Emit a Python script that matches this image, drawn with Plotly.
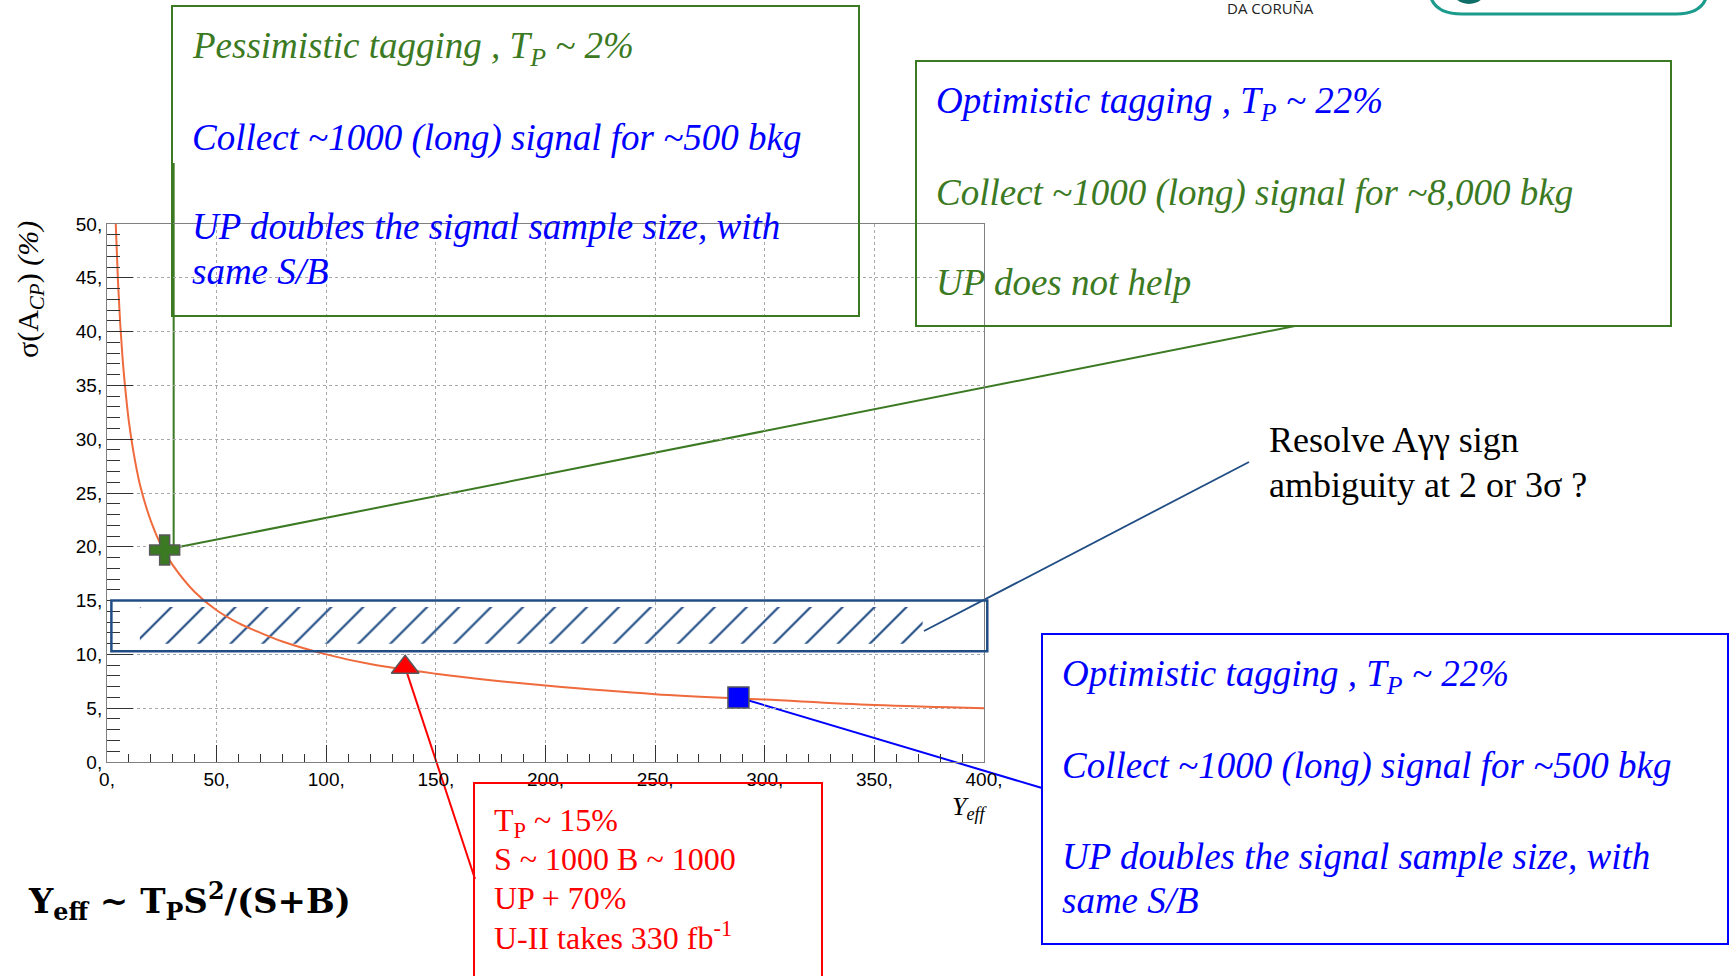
import plotly.graph_objects as go

# ---------------- data ----------------
curve_x = [4, 5, 6, 7, 8, 10, 12, 15, 20, 25, 30, 40, 50, 60, 70, 80, 100, 120,
           150, 175, 200, 250, 300, 350, 400]
curve_y = [50, 44.7, 40.8, 37.8, 35.4, 31.6, 28.9, 25.8, 22.4, 20.0, 18.3, 15.8,
           14.1, 12.9, 12.0, 11.2, 10.0, 9.1, 8.2, 7.6, 7.1, 6.3, 5.8, 5.3, 5.0]

pess_x, pess_y = [26.3], [19.7]     # pessimistic tagging point
mid_x, mid_y = [136], [8.8]         # T_P ~ 15% point
opt_x, opt_y = [288], [6.0]         # optimistic tagging point

band_x = [2, 401.5]                 # target region
band_y = [10.3, 15.0]
hatch_x = [15, 372]
hatch_y = [11.0, 14.4]

x_range = [0, 400]
y_range = [0, 50]

# ---------------- geometry helpers ----------------
W, H = 1729, 976
L, R, T, B = 107, 984, 224, 762     # plot area in pixels


def fx(px):
    return (px - L) / (R - L)


def fy(py):
    return (B - py) / (B - T)


def data_px(x, y):
    px = L + (x - x_range[0]) / (x_range[1] - x_range[0]) * (R - L)
    py = B - (y - y_range[0]) / (y_range[1] - y_range[0]) * (B - T)
    return px, py


GREEN = "#3b7a22"
BLUE = "#0000ff"
RED = "#ff0000"
NAVY = "#214d85"
ORANGE = "#ef6a3c"
SERIF = "Liberation Serif"
SANS = "Liberation Sans"

fig = go.Figure()

# hatched band interior
fig.add_trace(go.Scatter(
    x=[hatch_x[0], hatch_x[1], hatch_x[1], hatch_x[0], hatch_x[0]],
    y=[hatch_y[0], hatch_y[0], hatch_y[1], hatch_y[1], hatch_y[0]],
    mode="lines", fill="toself", fillcolor="rgba(0,0,0,0)",
    fillpattern=dict(shape="/", size=22.6, solidity=0.095, fgcolor=NAVY,
                     bgcolor="rgba(0,0,0,0)", fgopacity=1),
    line=dict(width=0, color="rgba(0,0,0,0)"), hoverinfo="skip"))

# curve
fig.add_trace(go.Scatter(x=curve_x, y=curve_y, mode="lines",
                         line=dict(color=ORANGE, width=2, shape="spline"),
                         hoverinfo="skip"))

# markers
fig.add_trace(go.Scatter(x=pess_x, y=pess_y, mode="markers",
                         marker=dict(symbol="cross", size=25, color=GREEN,
                                     line=dict(color="#5a5a5a", width=1.5))))
fig.add_trace(go.Scatter(x=mid_x, y=mid_y, mode="markers",
                         marker=dict(symbol="triangle-up", size=24, color=RED,
                                     line=dict(color="#5a5a5a", width=1.5))))
fig.add_trace(go.Scatter(x=opt_x, y=opt_y, mode="markers",
                         marker=dict(symbol="square", size=21, color=BLUE,
                                     line=dict(color="#5a5a5a", width=1.5))))

shapes = []


def rect(x0, y0, x1, y1, color, width=2, layer="above"):
    shapes.append(dict(type="rect", xref="paper", yref="paper",
                       x0=fx(x0), x1=fx(x1), y0=fy(y0), y1=fy(y1),
                       line=dict(color=color, width=width),
                       fillcolor="rgba(0,0,0,0)", layer=layer))


def seg(x0, y0, x1, y1, color, width=2, layer="below"):
    shapes.append(dict(type="line", xref="paper", yref="paper",
                       x0=fx(x0), x1=fx(x1), y0=fy(y0), y1=fy(y1),
                       line=dict(color=color, width=width), layer=layer))


# band border (from band data)
bx0, by0 = data_px(band_x[0], band_y[1])
bx1, by1 = data_px(band_x[1], band_y[0])
rect(bx0, by0, bx1, by1, NAVY, 2.5)

# text boxes
rect(172, 6, 859, 316, GREEN)
rect(916, 61, 1671, 326, GREEN)
rect(1042, 634, 1728, 944, BLUE)
rect(474, 783, 822, 1000, RED)

# pointer lines
gx, gy = data_px(pess_x[0], pess_y[0])
seg(gx + 9, gy - 2, gx + 9, 163, GREEN)
seg(gx + 9, gy - 2, 1295, 326, GREEN)
mx, my = data_px(mid_x[0], mid_y[0])
seg(mx, my, 475, 879, RED)
ox, oy = data_px(opt_x[0], opt_y[0])
seg(ox, oy, 1042, 788, BLUE)
seg(924, 631, 1249, 462, NAVY, 1.8)

# logo fragments at the top
shapes.append(dict(type="path", xref="paper", yref="paper",
                   path="M {a},{b} L {a},{c} Q {a},{d} {e},{d} L {f},{d} Q {g},{d} {g},{c} L {g},{b}".format(
                       a=fx(1429), b=fy(-40), c=fy(-14), d=fy(14), e=fx(1462), f=fx(1676), g=fx(1708)),
                   line=dict(color="#1a9b8c", width=3)))
shapes.append(dict(type="circle", xref="paper", yref="paper",
                   x0=fx(1450), x1=fx(1488), y0=fy(4), y1=fy(-34),
                   fillcolor="#0f6f68", line=dict(width=0)))

annotations = []


def txt(x, y, text, color, size, family=SERIF, xanchor="left", yanchor="middle", angle=0):
    annotations.append(dict(x=fx(x), y=fy(y), xref="paper", yref="paper", text=text,
                            showarrow=False, xanchor=xanchor, yanchor=yanchor,
                            textangle=angle, align="left",
                            font=dict(family=family, size=size, color=color)))


# top-left box
txt(190, 48, "<i>Pessimistic tagging , T<sub>P</sub> ~ 2%</i>", GREEN, 37)
txt(190, 138, "<i>Collect ~1000 (long) signal for ~500 bkg</i>", BLUE, 37)
txt(190, 227, "<i>UP doubles the signal sample size, with</i>", BLUE, 37)
txt(190, 271, "<i>same S/B</i>", BLUE, 37)
# top-right box
txt(934, 103, "<i>Optimistic tagging , T<sub>P</sub> ~ 22%</i>", BLUE, 37)
txt(934, 193, "<i>Collect ~1000 (long) signal for ~8,000 bkg</i>", GREEN, 37)
txt(934, 282, "<i>UP does not help</i>", GREEN, 37)
# bottom-right box
txt(1060, 676, "<i>Optimistic tagging , T<sub>P</sub> ~ 22%</i>", BLUE, 37)
txt(1060, 766, "<i>Collect ~1000 (long) signal for ~500 bkg</i>", BLUE, 37)
txt(1060, 856, "<i>UP doubles the signal sample size, with</i>", BLUE, 37)
txt(1060, 900, "<i>same S/B</i>", BLUE, 37)
# red box
txt(492, 822, "T<sub>P</sub> ~ 15%", RED, 32)
txt(492, 859, "S ~ 1000 B ~ 1000", RED, 32)
txt(492, 898, "UP + 70%", RED, 32)
txt(492, 936, "U-II takes 330 fb<sup>-1</sup>", RED, 32)
# formula
txt(26, 901, "<b>Y<sub>eff</sub> ~ T<sub>P</sub>S<sup>2</sup>/(S+B)</b>", "black", 34,
    family="DejaVu Serif")
# resolve note
txt(1267, 440, "Resolve Aγγ sign", "black", 36)
txt(1267, 485, "ambiguity at 2 or 3σ ?", "black", 36)
# axis titles
txt(950, 808, "<i>Y<sub>eff</sub></i>", "black", 26)
txt(30, 290, "σ(A<sub><i>CP</i></sub>) <i>(%)</i>", "black", 30, xanchor="center", angle=-90)
# logo texts
txt(1270, 8, "DA CORUÑA", "#222222", 15, family="Open Sans", xanchor="center")
txt(1563, 4, "<b>PROFESSOR</b>", "#1a9b8c", 24, family="Open Sans", xanchor="center",
    yanchor="bottom")

axis_common = dict(
    showline=True, linecolor="#808080", linewidth=1, mirror=True,
    ticks="inside", tickcolor="#333333", tickwidth=1,
    showgrid=True, gridcolor="#a8a8a8", griddash="dot", gridwidth=1,
    zeroline=False, ticksuffix=",", tick0=0,
    tickfont=dict(family=SANS, size=19, color="black"),
)

fig.update_layout(
    width=W, height=H,
    margin=dict(l=L, r=W - R, t=T, b=H - B, pad=0),
    paper_bgcolor="white", plot_bgcolor="rgba(0,0,0,0)",
    showlegend=False,
    xaxis=dict(range=x_range, dtick=50, ticklen=17,
               minor=dict(ticks="inside", ticklen=8, dtick=10, tick0=0,
                          tickcolor="#333333", showgrid=False),
               **axis_common),
    yaxis=dict(range=y_range, dtick=5, ticklen=26,
               minor=dict(ticks="inside", ticklen=13, dtick=1, tick0=0,
                          tickcolor="#333333", showgrid=False),
               **axis_common),
    shapes=shapes,
    annotations=annotations,
)

fig.write_html("out.html")
